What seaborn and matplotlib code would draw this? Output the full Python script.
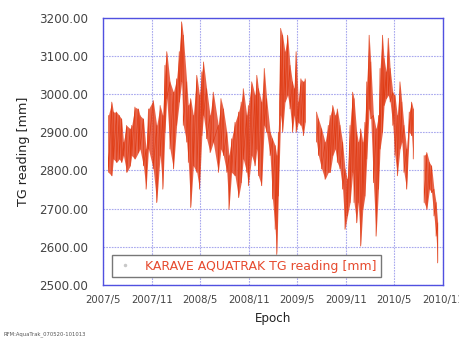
"""KARAVE AquaTrak tide gauge readings, 2007/5 - 2010/10."""
import matplotlib
matplotlib.use("Agg")
import matplotlib.dates as mdates
import matplotlib.pyplot as plt
import numpy as np
import pandas as pd
import seaborn as sns
from matplotlib.lines import Line2D
from matplotlib.ticker import FuncFormatter

# days counted from START; each day has the upper and lower extent of the trace
START = "2007-05-01"
days = [20, 33, 39, 51, 61, 70, 77, 89, 102, 108, 120, 133, 139, 152, 162, 171,
        189, 202, 215, 225, 233, 240, 252, 265, 277, 287, 296, 302, 315, 321,
        330, 340, 353, 363, 372, 378, 390, 403, 415, 434, 444, 453, 466, 474,
        484, 497, 510, 520, 528, 541, 547, 560, 572, 579, 585, 597, 607, 616,
        629, 638, 648, 654, 660, 669, 676, 685, 695, 704, 713, 720, 727, 735,
        745, 754, 761, 804, 811, 823, 836, 848, 855, 865, 874, 882, 892, 902,
        911, 920, 930, 940, 945, 955, 961, 970, 978, 986, 993, 1002, 1008,
        1018, 1028, 1037, 1043, 1052, 1058, 1066, 1074, 1081, 1091, 1099,
        1108, 1118, 1125, 1133, 1143, 1153, 1162, 1168, 1209, 1219, 1229,
        1237, 1246, 1254, 1260]
highs = [2944, 2979, 2953, 2953, 2944, 2935, 2874, 2918, 2909, 2918, 2966, 2961,
         2944, 2935, 2856, 2961, 2983, 2918, 2970, 2944, 3075, 3111, 3032, 3005,
         3040, 3111, 3189, 3154, 3032, 2970, 2988, 2944, 3049, 2997, 3058, 3084,
         3014, 2944, 3005, 2918, 2988, 2961, 2900, 2839, 2883, 2926, 2953, 2979,
         3014, 2944, 2970, 3032, 2997, 3049, 3014, 2979, 3067, 2988, 2900, 2883,
         2865, 2839, 2900, 3172, 3154, 3111, 3154, 3075, 3032, 3014, 3111, 2979,
         3040, 3032, 3040, 2953, 2935, 2909, 2874, 2918, 2944, 2970, 2944, 2961,
         2918, 2874, 2804, 2777, 2918, 3005, 2988, 2900, 2874, 2909, 2874, 2926,
         3032, 3154, 3084, 2944, 2909, 2944, 3067, 3154, 3093, 3058, 3146, 3067,
         3005, 2997, 2944, 3032, 2979, 2918, 2856, 2953, 2979, 2961, 2839, 2847,
         2821, 2812, 2751, 2716, 2663]
lows = [2795, 2786, 2830, 2821, 2830, 2821, 2839, 2795, 2812, 2839, 2830, 2847,
        2856, 2812, 2751, 2856, 2804, 2716, 2839, 2751, 2900, 2988, 2856, 2804,
        2918, 2979, 3032, 2918, 2874, 2821, 2703, 2812, 2795, 2751, 2891, 2944,
        2883, 2847, 2874, 2795, 2856, 2839, 2795, 2698, 2795, 2786, 2729, 2768,
        2830, 2795, 2760, 2839, 2812, 2856, 2786, 2760, 2918, 2900, 2839, 2725,
        2646, 2580, 2733, 2944, 2900, 2979, 2997, 2961, 2900, 2944, 2900, 2926,
        2918, 2891, 2926, 2874, 2839, 2804, 2777, 2795, 2795, 2839, 2856, 2821,
        2804, 2751, 2646, 2681, 2716, 2795, 2716, 2663, 2716, 2602, 2698, 2733,
        2830, 2961, 2935, 2768, 2628, 2751, 2856, 2900, 2970, 2988, 2997, 2979,
        2918, 2839, 2786, 2856, 2874, 2795, 2751, 2900, 2891, 2830, 2716, 2698,
        2751, 2742, 2681, 2628, 2558]
# no readings between these days and the next one
gap_after = [761, 1168]

yticks = [2500, 2600, 2700, 2800, 2900, 3000, 3100, 3200]

RED = "#e03c14"
BLUE = "#5050e0"
GRID = "#a8a8ee"

rows = []
seg = 0
for d, h, l in zip(days, highs, lows):
    date = pd.Timestamp(START) + pd.Timedelta(days=d)
    rows.append({"epoch": date, "tg": h, "seg": seg})
    rows.append({"epoch": date, "tg": l, "seg": seg})
    if d in gap_after:
        seg += 1
df = pd.DataFrame(rows)

env = pd.DataFrame({"epoch": pd.Timestamp(START) + pd.to_timedelta(days, unit="D"),
                    "high": highs, "low": lows})
env["seg"] = np.searchsorted(np.array(gap_after), np.array(days), side="left")

sns.set_style("white")
plt.rcParams["font.family"] = ["DejaVu Sans"]

fig = plt.figure(figsize=(4.6, 3.39), dpi=100)
ax = fig.add_axes([0.224, 0.159, 0.739, 0.789])

for _, part in env.groupby("seg"):
    ax.fill_between(part["epoch"], part["low"], part["high"], color="#e4492a",
                    alpha=0.85, lw=0, zorder=2)
sns.lineplot(data=df, x="epoch", y="tg", units="seg", estimator=None, sort=False,
             color=RED, lw=0.5, ax=ax, zorder=3, legend=False)

ax.set_xlim(pd.Timestamp("2007-05-01"), pd.Timestamp("2010-11-01"))
ax.set_ylim(2500, 3200)
ax.set_yticks(yticks)
ax.yaxis.set_major_formatter(FuncFormatter(lambda v, _: f"{v:.2f}"))
ax.xaxis.set_major_locator(mdates.MonthLocator(bymonth=[5, 11]))
ax.xaxis.set_major_formatter(
    FuncFormatter(lambda v, _: f"{mdates.num2date(v).year}/{mdates.num2date(v).month}"))

ax.grid(True, color=GRID, lw=0.8, ls=(0, (1.5, 1)), zorder=1)
for sp in ax.spines.values():
    sp.set_color(BLUE)
    sp.set_linewidth(1.0)
ax.tick_params(axis="y", length=5, color=BLUE, labelsize=8.6, labelcolor="#444", pad=6)
ax.tick_params(axis="x", length=0, labelsize=7.3, labelcolor="#444", pad=7)

ax.set_xlabel("Epoch", fontsize=8.6, color="#222", labelpad=5)
ax.set_ylabel("TG reading [mm]", fontsize=9.2, color="#222", labelpad=6)

handle = Line2D([], [], marker=".", ls="", color="#c8c8c8", markersize=3)
leg = ax.legend([handle], ["KARAVE AQUATRAK TG reading [mm]"], loc="lower left",
                bbox_to_anchor=(0.026, 0.03), borderaxespad=0, fontsize=9,
                labelcolor="#e64a2e", frameon=True, fancybox=False, framealpha=1,
                edgecolor="#777777", handlelength=1.4, handletextpad=0.9,
                borderpad=0.35)
leg.get_frame().set_linewidth(1.0)

fig.text(0.007, 0.012, "RFM:AquaTrak_070520-101013", fontsize=3.8, color="#555")

fig.savefig("out.png", dpi=100)
